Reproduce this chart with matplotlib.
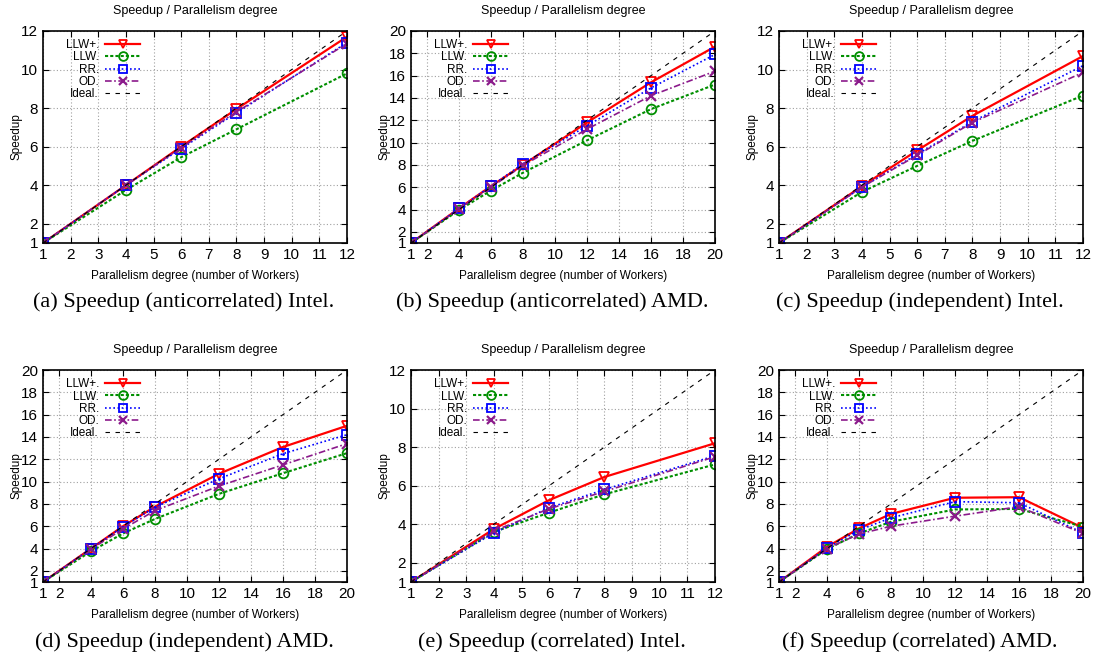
import matplotlib.pyplot as plt

# --------- DATA ---------
x_intel = [1, 4, 6, 8, 12]
x_amd = [1, 4, 6, 8, 12, 16, 20]

labels = ["LLW+.", "LLW.", "RR.", "OD.", "Ideal."]

# (a) anticorrelated Intel
a_llwp = [1, 4.0, 6.0, 7.95, 11.7]
a_llw = [1, 3.75, 5.45, 6.9, 9.8]
a_rr = [1, 4.0, 5.9, 7.75, 11.4]
a_od = [1, 4.0, 5.95, 7.8, 11.35]

# (b) anticorrelated AMD
b_llwp = [1, 4.1, 6.1, 8.0, 11.8, 15.4, 18.6]
b_llw = [1, 3.95, 5.7, 7.3, 10.2, 13.0, 15.2]
b_rr = [1, 4.1, 6.1, 8.1, 11.5, 14.9, 17.9]
b_od = [1, 4.05, 6.0, 7.95, 11.2, 14.2, 16.4]

# (c) independent Intel
c_llwp = [1, 3.95, 5.8, 7.6, 10.7]
c_llw = [1, 3.65, 5.0, 6.3, 8.65]
c_rr = [1, 3.9, 5.6, 7.3, 10.2]
c_od = [1, 3.9, 5.55, 7.25, 9.85]

# (d) independent AMD
d_llwp = [1, 4.0, 6.0, 7.75, 10.7, 13.1, 15.0]
d_llw = [1, 3.75, 5.35, 6.65, 8.9, 10.75, 12.55]
d_rr = [1, 4.0, 5.95, 7.7, 10.25, 12.5, 14.2]
d_od = [1, 3.95, 5.75, 7.4, 9.6, 11.5, 13.4]

# (e) correlated Intel
e_llwp = [1, 3.75, 5.25, 6.45, 8.2]
e_llw = [1, 3.6, 4.6, 5.55, 7.1]
e_rr = [1, 3.55, 4.85, 5.8, 7.55]
e_od = [1, 3.65, 4.8, 5.7, 7.5]

# (f) correlated AMD
f_llwp = [1, 4.15, 5.8, 7.1, 8.55, 8.6, 5.85]
f_llw = [1, 3.95, 5.35, 6.4, 7.5, 7.55, 5.95]
f_rr = [1, 4.05, 5.65, 6.75, 8.2, 8.1, 5.4]
f_od = [1, 4.0, 5.3, 6.0, 6.9, 7.75, 5.35]

intel_ticks = [1, 2, 3, 4, 5, 6, 7, 8, 9, 10, 11, 12]
intel_yticks = [1, 2, 4, 6, 8, 10, 12]
amd_ticks = [1, 2, 4, 6, 8, 10, 12, 14, 16, 18, 20]
amd_yticks = [1, 2, 4, 6, 8, 10, 12, 14, 16, 18, 20]

captions = [
    "(a) Speedup (anticorrelated) Intel.",
    "(b) Speedup (anticorrelated) AMD.",
    "(c) Speedup (independent) Intel.",
    "(d) Speedup (independent) AMD.",
    "(e) Speedup (correlated) Intel.",
    "(f) Speedup (correlated) AMD.",
]
# ------------------------

plt.rcParams["font.family"] = ["Liberation Sans", "DejaVu Sans"]

panels = [
    (x_intel, a_llwp, a_llw, a_rr, a_od, 12),
    (x_amd, b_llwp, b_llw, b_rr, b_od, 20),
    (x_intel, c_llwp, c_llw, c_rr, c_od, 12),
    (x_amd, d_llwp, d_llw, d_rr, d_od, 20),
    (x_intel, e_llwp, e_llw, e_rr, e_od, 12),
    (x_amd, f_llwp, f_llw, f_rr, f_od, 20),
]

W, H = 1094, 656
fig = plt.figure(figsize=(W / 100, H / 100), dpi=100)

lefts = [43, 411, 779]
tops = [31, 370]
aw, ah = 304, 212

for i, (xs, llwp, llw, rr, od, xmax) in enumerate(panels):
    row, col = divmod(i, 3)
    l = lefts[col]
    t = tops[row]
    ax = fig.add_axes([l / W, 1 - (t + ah) / H, aw / W, ah / H])

    ax.plot(xs, llwp, color="red", lw=1.6, marker="v", ms=7,
            mfc="none", mec="red", mew=1.3, label=labels[0])
    ax.plot(xs, llw, color="#008f00", lw=1.5, ls=(0, (1.5, 1)), marker="o", ms=7,
            mfc="none", mec="#008f00", mew=1.3, label=labels[1])
    ax.plot(xs, rr, color="blue", lw=1.2, ls=(0, (1, 1.5)), marker="s", ms=7,
            mfc="none", mec="blue", mew=1.3, label=labels[2])
    ax.plot(xs, rr, ls="none", marker=".", ms=2, color="blue")
    ax.plot(xs, od, color="#8b1a8b", lw=1.2, ls=(0, (4, 1.5, 1, 1.5)), marker="x", ms=7,
            mew=1.6, label=labels[3])
    ax.plot([1, xmax], [1, xmax], color="black", lw=0.8, ls=(0, (4, 5)),
            label=labels[4])

    ax.set_xlim(1, xmax)
    ax.set_ylim(1, xmax)
    if xmax == 12:
        ax.set_xticks(intel_ticks)
        ax.set_yticks(intel_yticks)
    else:
        ax.set_xticks(amd_ticks)
        ax.set_yticks(amd_yticks)
    ax.tick_params(direction="in", top=True, right=True, labelsize=11, length=4)
    ax.grid(True, color="#a0a0a0", ls=(0, (1, 2)), lw=0.8)
    for s in ax.spines.values():
        s.set_linewidth(1.2)

    ax.set_title("Speedup / Parallelism degree", fontsize=9, pad=12)
    ax.set_xlabel("Parallelism degree (number of Workers)", fontsize=8.5, labelpad=6)
    ax.set_ylabel("Speedup", fontsize=8.5, labelpad=-1)

    ax.legend(loc="upper left", bbox_to_anchor=(0.047, 1.0), frameon=False,
              markerfirst=False, fontsize=8.5, handlelength=3.0, handletextpad=0.5,
              labelspacing=0.02, borderaxespad=0.3, markerscale=0.9)

    cy = 302 if row == 0 else 642
    fig.text((l + aw / 2 - 11) / W, 1 - cy / H, captions[i], ha="center", va="center",
             family=["Liberation Serif", "DejaVu Serif"], fontsize=16)

fig.savefig("out.png", dpi=100)
